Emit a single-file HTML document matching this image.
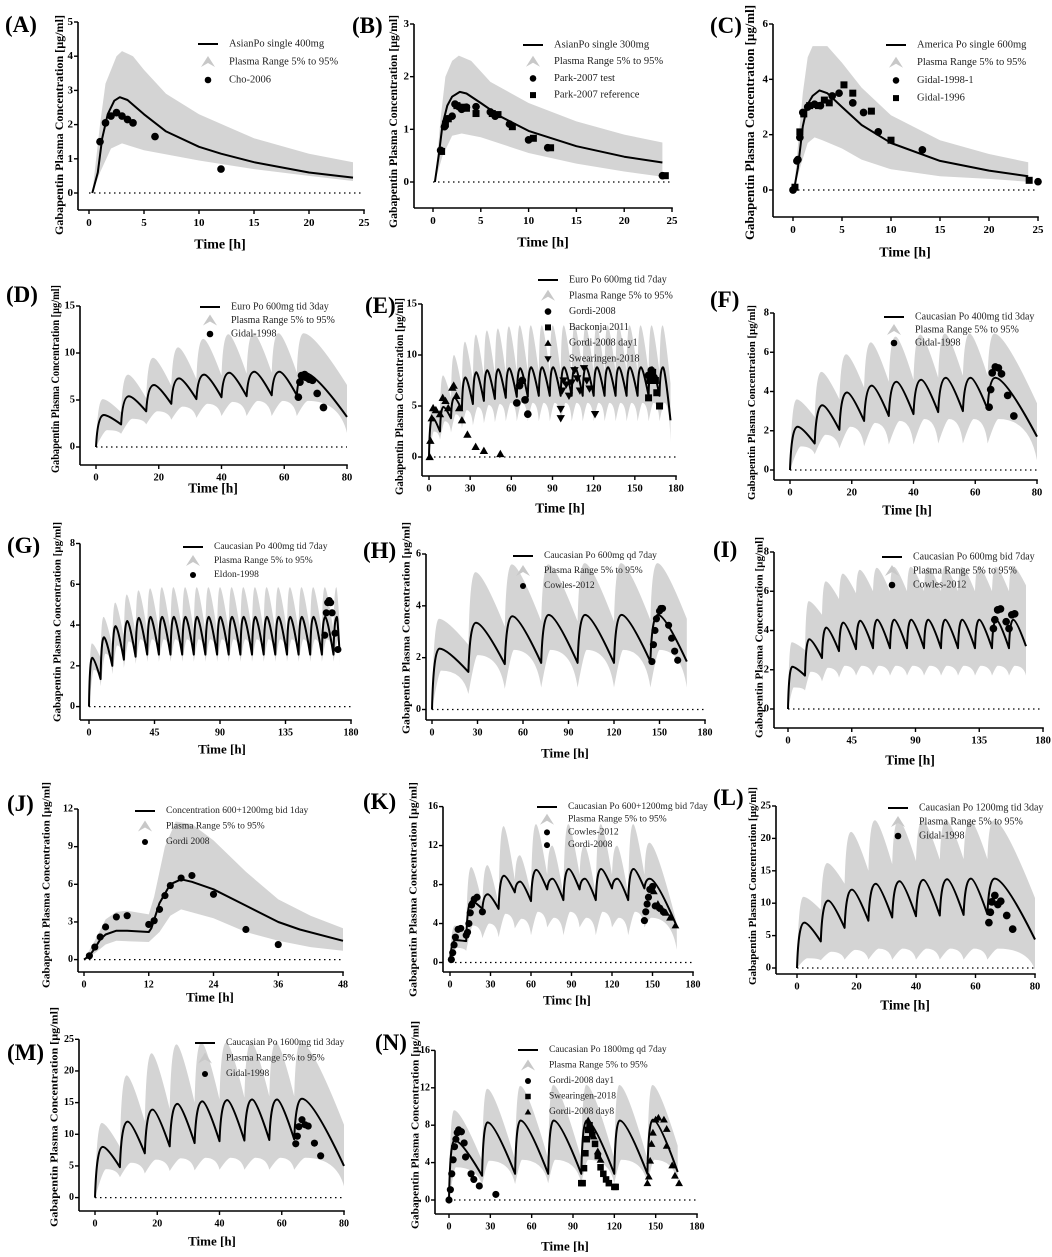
<!DOCTYPE html>
<html><head><meta charset="utf-8">
<style>
html,body{margin:0;padding:0;background:#fff;}
svg{display:block;}
text{font-family:"Liberation Serif",serif;}
</style></head>
<body>
<svg id="fig" width="1052" height="1257" viewBox="0 0 1052 1257" xmlns="http://www.w3.org/2000/svg"></svg>
<script>
// ---------- DATA ----------
const aLine=[[0.3,0],[0.8,0.6],[1.2,1.6],[1.7,2.3],[2.3,2.7],[2.8,2.8],[3.5,2.72],[5,2.3],[7,1.8],[10,1.35],[12,1.15],[15,0.9],[20,0.6],[24,0.45]];
const aUp=[[0.3,0],[1,2],[1.5,3.2],[2.5,4.0],[3,4.15],[4,4.0],[5,3.6],[7,2.9],[10,2.3],[15,1.6],[20,1.15],[24,0.9]];
const aLo=[[0.3,0],[1,0.6],[2,1.3],[3,1.45],[5,1.25],[10,0.95],[15,0.7],[20,0.5],[24,0.35]];
const aObs=[[1,1.5],[1.5,2.05],[2,2.25],[2.5,2.35],[3,2.25],[3.5,2.15],[4,2.05],[6,1.65],[12,0.7]];

const bLine=[[0.2,0],[0.6,0.5],[1,1.1],[1.5,1.45],[2,1.62],[2.8,1.71],[3.5,1.68],[5,1.5],[7,1.25],[10,0.97],[15,0.68],[20,0.48],[24,0.37]];
const bUp=[[0.2,0],[0.8,1.2],[1.3,2.0],[2,2.3],[2.7,2.4],[4,2.3],[6,1.9],[10,1.5],[15,1.15],[20,0.9],[24,0.75]];
const bLo=[[0.2,0],[1,0.5],[2,0.88],[3,0.92],[5,0.85],[10,0.55],[15,0.35],[20,0.2],[24,0.1]];
const bObsTest=[[0.8,0.6],[1.2,1.05],[1.5,1.2],[2,1.25],[2.3,1.48],[2.7,1.43],[3,1.38],[3.5,1.42],[4.5,1.43],[6,1.33],[6.5,1.25],[8,1.1],[10,0.8],[12,0.65],[24,0.12]];
const bObsRef=[[0.9,0.58],[1.3,1.1],[1.6,1.2],[2.5,1.45],[3,1.42],[3.5,1.4],[4.5,1.3],[6.2,1.3],[6.8,1.28],[8.3,1.05],[10.5,0.83],[12.3,0.65],[24.3,0.12]];

const cLine=[[0.1,0],[0.5,0.8],[1,2.3],[1.5,3.1],[2,3.4],[2.7,3.6],[3.5,3.5],[5,3.0],[7,2.35],[10,1.7],[15,1.05],[20,0.7],[24,0.5]];
const cUp=[[0.1,0],[0.6,2],[1,3.5],[1.5,4.8],[2,5.2],[3.5,5.2],[5,4.6],[7,3.7],[10,2.7],[15,1.8],[20,1.3],[24,1.0]];
const cLo=[[0.1,0],[0.8,0.9],[1.5,1.7],[2.2,1.9],[3,1.8],[5,1.5],[7,1.1],[10,0.75],[15,0.5],[20,0.4],[24,0.3]];
const cObs1=[[0,0],[0.4,1.05],[0.5,1.1],[0.7,1.9],[1,2.8],[1.5,3.0],[2.2,3.1],[2.8,3.05],[4,3.4],[4.7,3.5],[6.1,3.15],[7.2,2.8],[8.7,2.1],[13.2,1.45],[25,0.3]];
const cObs2=[[0.2,0.1],[0.7,2.1],[1.1,2.75],[1.7,3.05],[2.6,3.05],[3.2,3.25],[3.7,3.15],[5.2,3.8],[6.1,3.5],[8,2.85],[10,1.8],[24.1,0.35]];

const jLine=[[0,0],[1,0.3],[2,0.9],[3,1.6],[4,2.0],[6,2.3],[8,2.3],[12,2.2],[12.5,2.5],[14,4.5],[16,6.0],[18,6.4],[20,6.2],[24,5.6],[30,4.3],[36,3.0],[40,2.4],[48,1.5]];
const jUp=[[0,0],[2,1.5],[4,3.2],[6,3.8],[8,3.9],[12,3.6],[13,5],[15,9],[17,11],[20,10.8],[24,9.5],[30,7],[36,4.8],[42,3.5],[48,2.5]];
const jLo=[[0,0],[2,0.5],[4,1.2],[6,1.5],[12,1.4],[14,2.2],[16,3.5],[18,4.0],[24,3.3],[30,2.2],[36,1.5],[42,1.0],[48,0.7]];
const jObs=[[1,0.3],[2,1.0],[3,1.8],[4,2.6],[6,3.4],[8,3.5],[12,2.8],[13,3.1],[14,4.0],[15,5.1],[16,5.9],[18,6.5],[20,6.7],[24,5.2],[30,2.4],[36,1.2]];

const dDoses=[0,8,16,24,32,40,48,56,64];
const dPeaks=[3.4,5.4,6.6,7.3,7.7,7.9,8.0,8.0,7.9];
const dTroughs=[0,2.4,3.8,4.6,5.1,5.3,5.4,5.5,5.5];
const dUpPeaks=[5.1,7.7,9.5,10.6,11.5,12.0,12.1,12.1,12.1];
const dUpTroughs=[0,3.7,5.2,6.5,7.2,7.6,7.8,7.9,7.9];
const dLoPeaks=[1.8,3.0,3.8,4.3,4.6,4.8,4.9,4.9,4.9];
const dLoTroughs=[0,1.4,2.4,2.9,3.1,3.3,3.3,3.3,3.3];
const dEnd=[80,3.2,6.6,1.5];
const dObs=[[64.5,5.3],[65,6.9],[65.5,7.6],[66,7.5],[66.5,7.7],[67,7.4],[68,7.2],[69,7.1],[70.5,5.7],[72.5,4.2]];

const eDoses=[0,8,16,24,32,40,48,56,64,72,80,88,96,104,112,120,128,136,144,152,160,168];
const ePeaks=[3.9,4.9,5.8,7.8,8.3,8.5,8.6,8.7,8.7,8.8,8.8,8.8,8.8,8.8,8.8,8.8,8.8,8.8,8.8,8.8,8.8,8.8];
const eTroughs=[0,2.5,3.8,4.6,5.2,5.5,5.7,5.8,5.9,5.9,6.0,6.0,6.0,6.0,6.0,6.0,6.0,6.0,6.0,6.0,6.0,6.0];
const eUpPeaks=[5.0,8.0,10.0,11.3,12.0,12.4,12.6,12.8,12.9,12.9,12.9,12.9,12.9,12.9,12.9,12.9,12.9,12.9,12.9,12.9,12.9,12.9];
const eUpTroughs=[0,4.2,5.8,6.8,7.5,7.9,8.1,8.2,8.3,8.3,8.3,8.3,8.3,8.3,8.3,8.3,8.3,8.3,8.3,8.3,8.3,8.3];
const eLoPeaks=[2.5,3.5,4.2,4.6,4.9,5.1,5.2,5.3,5.3,5.3,5.3,5.3,5.3,5.3,5.3,5.3,5.3,5.3,5.3,5.3,5.3,5.3];
const eLoTroughs=[0,1.7,2.4,2.8,3.1,3.3,3.4,3.5,3.5,3.5,3.5,3.5,3.5,3.5,3.5,3.5,3.5,3.5,3.5,3.5,3.5,3.5];
const eEnd=[176,3.6,7.2,1.5];
const eObsGordi=[[64,5.3],[66,7.0],[68,7.5],[70,5.6],[72,4.2],[160,8.0],[162,8.5],[164,7.8]];
const eObsBackonja=[[160,5.8],[161,7.5],[163,8.3],[165,7.5],[166,6.3],[168,5.0]];
const eObsDay1=[[0.5,0],[1,1.6],[2,3.8],[3,4.8],[5,4.6],[8,4.2],[10,5.8],[12,5.5],[14,4.8],[17,6.8],[18,7.0],[20,6.0],[22,4.8],[24,3.6],[28,2.2],[34,1.0],[40,0.6],[52,0.3]];
const eObsSwear=[[96,3.8],[96,4.7],[97,6.5],[98,7.5],[100,7.1],[102,6.0],[104,7.3],[106,8.5],[108,7.7],[110,6.5],[113,8.7],[115,7.5],[117,6.7],[121,4.2]];

const fDoses=[0,8,16,24,32,40,48,56,64];
const fPeaks=[2.2,3.3,3.95,4.3,4.5,4.6,4.7,4.7,4.7];
const fTroughs=[0,1.35,2.05,2.5,2.75,2.85,2.95,3.0,3.1];
const fUpPeaks=[3.6,5.0,5.9,6.5,6.8,6.9,6.95,6.95,6.95];
const fUpTroughs=[0,2.7,3.6,4.2,4.5,4.6,4.7,4.8,4.8];
const fLoPeaks=[1.2,1.8,2.2,2.4,2.5,2.6,2.6,2.6,2.6];
const fLoTroughs=[0,0.8,1.1,1.2,1.3,1.3,1.35,1.35,1.35];
const fEnd=[80,1.7,3.4,0.5];
const fObs=[[64.5,3.2],[65,4.1],[65.5,4.95],[66.5,5.25],[67.5,5.2],[68.5,4.9],[70.5,3.8],[72.5,2.75]];

const gDoses=[0,8,16,24,32,40,48,56,64,72,80,88,96,104,112,120,128,136,144,152,160,168];
const gPeaks=[2.4,3.4,3.95,4.2,4.35,4.4,4.4,4.4,4.4,4.4,4.4,4.4,4.4,4.4,4.4,4.4,4.4,4.4,4.4,4.4,4.4,4.4];
const gTroughs=[0,1.35,2.0,2.3,2.45,2.55,2.55,2.55,2.55,2.55,2.55,2.55,2.55,2.55,2.55,2.55,2.55,2.55,2.55,2.55,2.55,2.55];
const gUpPeaks=[3.1,4.4,5.1,5.5,5.7,5.8,5.85,5.85,5.85,5.85,5.85,5.85,5.85,5.85,5.85,5.85,5.85,5.85,5.85,5.85,5.85,5.85];
const gUpTroughs=[0,2.4,3.0,3.4,3.6,3.7,3.7,3.7,3.7,3.7,3.7,3.7,3.7,3.7,3.7,3.7,3.7,3.7,3.7,3.7,3.7,3.7];
const gLoPeaks=[1.8,2.6,3.0,3.2,3.3,3.3,3.3,3.3,3.3,3.3,3.3,3.3,3.3,3.3,3.3,3.3,3.3,3.3,3.3,3.3,3.3,3.3];
const gLoTroughs=[0,1.0,1.6,1.9,2.1,2.2,2.2,2.2,2.2,2.2,2.2,2.2,2.2,2.2,2.2,2.2,2.2,2.2,2.2,2.2,2.2,2.2];
const gEnd=[172,2.8,4.2,2.0];
const gObs=[[162,3.5],[163,4.6],[164,5.1],[165,5.2],[166,5.1],[167,4.6],[169,3.6],[171,2.8]];

const hDoses=[0,24,48,72,96,120,144];
const hPeaks=[2.35,3.35,3.6,3.65,3.65,3.65,3.65];
const hTroughs=[0,1.45,1.75,1.8,1.8,1.8,1.85];
const hUpPeaks=[3.5,5.3,5.6,5.6,5.65,5.65,5.65];
const hUpTroughs=[0,2.5,3.2,3.4,3.4,3.4,3.45];
const hLoPeaks=[1.5,2.1,2.3,2.3,2.3,2.3,2.3];
const hLoTroughs=[0,0.6,0.8,0.85,0.85,0.85,0.85];
const hEnd=[168,1.85,3.5,0.85];
const hObs=[[145,1.85],[146,2.5],[147,3.05],[148,3.5],[150,3.8],[151,3.9],[152,3.9],[156,3.25],[158,2.75],[160,2.25],[162,1.9]];

const iDoses=[0,12,24,36,48,60,72,84,96,108,120,132,144,156];
const iPeaks=[2.15,3.55,4.15,4.4,4.5,4.55,4.55,4.55,4.55,4.55,4.55,4.55,4.55,4.55];
const iTroughs=[0,1.7,2.6,2.95,3.05,3.1,3.1,3.1,3.1,3.1,3.1,3.1,3.1,3.1];
const iUpPeaks=[3.4,5.5,6.5,6.9,7.1,7.2,7.25,7.25,7.25,7.25,7.25,7.25,7.25,7.3];
const iUpTroughs=[0,3.0,4.8,5.6,5.9,6.0,6.0,6.0,6.0,6.0,6.0,6.0,6.0,6.0];
const iLoPeaks=[1.1,1.9,2.1,2.2,2.2,2.2,2.2,2.2,2.2,2.2,2.2,2.2,2.2,2.2];
const iLoTroughs=[0,0.95,1.4,1.6,1.7,1.7,1.7,1.7,1.7,1.7,1.7,1.7,1.7,1.7];
const iEnd=[168,3.2,6.3,1.7];
const iObs=[[145,4.1],[146,4.55],[148,5.05],[150,5.1],[154,4.45],[156,4.1],[158,4.8],[160,4.85]];

const kDoses=[0,12,24,36,48,60,72,84,96,108,120,132,144];
const kPeaks=[2.3,6.3,7.0,8.9,8.3,9.5,8.6,9.6,8.6,9.6,8.6,9.6,8.6];
const kTroughs=[0,2.2,5.5,5.5,7.2,6.3,7.5,6.4,7.5,6.4,7.6,6.4,7.6];
const kUpPeaks=[3.8,9.8,10,14,11,14.2,12,14.2,12,14.2,12,14.2,12.3];
const kUpTroughs=[0,3,6,6,8.5,7,9,7,9,7,9,7,9];
const kLoPeaks=[1.5,3.8,4.0,5,4.5,5.2,4.6,5.2,4.6,5.2,4.6,5.2,4.6];
const kLoTroughs=[0,1.2,2.5,2.6,3.5,2.8,3.6,2.8,3.6,2.8,3.6,2.8,3.6];
const kEnd=[168,3.7,4.0,1.3];
const kObsCowles=[[144,4.3],[145,5.2],[146,6.0],[147,6.7],[148,7.5],[150,7.8],[152,5.8],[155,5.6],[158,5.2]];
const kObsGordi=[[1,0.3],[2,1.0],[3,1.8],[4,2.6],[6,3.4],[8,3.5],[12,2.8],[13,3.1],[14,4.0],[15,5.1],[16,5.9],[18,6.5],[20,6.7],[24,5.2]];
const kObsTri=[[149,7.6],[151,7.3],[154,6.0],[157,5.5],[160,5.1],[163,4.6],[167,3.8]];

const lDoses=[0,8,16,24,32,40,48,56,64];
const lPeaks=[7.0,10.4,12.1,13.0,13.4,13.6,13.7,13.8,13.8];
const lTroughs=[0,4.1,6.2,7.3,7.8,8.0,8.1,8.2,8.3];
const lUpPeaks=[11,16.2,21,22.8,22.8,22.8,22.8,22.8,22.8];
const lUpTroughs=[0,9,13,15,16,16.5,16.7,16.8,16.8];
const lLoPeaks=[1.5,2.5,2.8,3,3,3,3,3,3];
const lLoTroughs=[0,1.2,1.3,1.3,1.3,1.3,1.3,1.3,1.3];
const lEnd=[80,4.4,10.8,-0.3];
const lObs=[[64.5,7.0],[65,8.6],[65.5,10.2],[66.5,11.2],[67.5,9.8],[68.5,10.3],[70.5,8.1],[72.5,6.0]];

const mDoses=[0,8,16,24,32,40,48,56,64];
const mPeaks=[8.0,12.0,13.9,14.8,15.2,15.4,15.5,15.5,15.6];
const mTroughs=[0,4.8,7.0,8.1,8.6,8.9,9.0,9.1,9.2];
const mUpPeaks=[11.8,19.3,22.8,24.2,24.5,24.5,24.5,24.5,24.5];
const mUpTroughs=[0,8,12,14,15,15.5,15.8,16,16];
const mLoPeaks=[4.5,5.5,6.0,6.2,6.3,6.3,6.3,6.3,6.3];
const mLoTroughs=[0,3.2,3.8,4.2,4.3,4.4,4.4,4.4,4.4];
const mEnd=[80,5.0,11.5,1.8];
const mObs=[[64.5,8.5],[65,9.7],[65.5,11.2],[66.5,12.3],[67.5,11.5],[68.5,11.3],[70.5,8.6],[72.5,6.6]];

const nDoses=[0,24,48,72,96,120,144];
const nPeaks=[6.4,8.3,8.5,8.5,8.5,8.5,8.6];
const nTroughs=[0,2.6,2.8,2.8,2.8,2.8,2.8];
const nUpPeaks=[9.6,11.9,12.2,12.3,12.3,12.3,12.3];
const nUpTroughs=[0,4.2,4.3,4.4,4.4,4.4,4.4];
const nLoPeaks=[3.5,4.2,4.3,4.3,4.3,4.3,4.3];
const nLoTroughs=[0,1.6,1.7,1.8,1.8,1.8,1.8];
const nEnd=[166,3.0,5.8,1.9];
const nObsGordi1=[[0,0],[1,1.1],[2,2.8],[3,4.3],[4,5.7],[5,6.5],[6,7.2],[7,7.5],[9,7.3],[11,6.1],[12,4.6],[16,2.8],[18,2.2],[22,1.5],[34,0.6]];
const nObsSwear=[[96,1.8],[97,1.8],[98,3.4],[99,5.0],[100,6.5],[101,7.5],[102,8.0],[103,7.5],[104,7.0],[106,6.0],[108,4.7],[110,3.5],[112,2.8],[114,2.2],[116,1.8],[120,1.4],[121,1.4]];
const nObsGordi8=[[101,8.5],[103,7.7],[105,6.8],[108,5.2],[110,4.3],[144,1.8],[145,2.5],[146,4.2],[147,6.0],[148,7.2],[150,8.6],[152,8.8],[156,8.6],[158,7.6],[158,5.8],[162,3.7],[164,2.6],[167,1.8]];

const xTicksA=[0,5,10,15,20,25], yTicksA=[0,1,2,3,4,5];
const yTicksB=[0,1,2,3], yTicksC=[0,2,4,6];
const xTicks80=[0,20,40,60,80], xTicks180=[0,30,60,90,120,150,180], xTicks45=[0,45,90,135,180], xTicksJ=[0,12,24,36,48];
const yTicks15=[0,5,10,15], yTicks8=[0,2,4,6,8], yTicks6=[0,2,4,6], yTicks12=[0,3,6,9,12], yTicks16=[0,4,8,12,16], yTicks25=[0,5,10,15,20,25];

// ---------- RENDER ----------
const NS='http://www.w3.org/2000/svg';
const svg=document.getElementById('fig');
function mk(tag,attrs,parent){const e=document.createElementNS(NS,tag);for(const k in attrs)e.setAttribute(k,attrs[k]);(parent||svg).appendChild(e);return e;}
function multi(doses,peaks,troughs,end,off,upshift){
  const pts=[];
  for(let i=0;i<doses.length;i++){pts.push([doses[i],troughs[i]]);pts.push([doses[i]+off+(upshift||0),peaks[i]]);}
  pts.push([end[0],end[1]]);return pts;
}
// smooth path through pixel points: rising segments concave, falling segments rounded at top
function smoothSeg(p0,p1){
  const dx=p1[0]-p0[0];
  if(p1[1]<p0[1]) return `Q${(p0[0]+dx*0.2).toFixed(1)},${p1[1].toFixed(1)} ${p1[0].toFixed(1)},${p1[1].toFixed(1)}`; // going up on screen
  return `Q${(p0[0]+dx*0.25).toFixed(1)},${p0[1].toFixed(1)} ${p1[0].toFixed(1)},${p1[1].toFixed(1)}`;
}
function pathOf(px,move){
  let d=(move?'M':'L')+px[0][0].toFixed(1)+','+px[0][1].toFixed(1);
  for(let i=1;i<px.length;i++) d+=' '+smoothSeg(px[i-1],px[i]);
  return d;
}

const PANELS=[
 {id:'A',lab:[5,32],ax:78,xy:210,xt:xTicksA,xp:[89,364],yt:yTicksA,yp:[193,22],tt:[59,15,235,12],tl:[220,245],fs:11,
  line:aLine,up:aUp,lo:aLo,obs:[['circle',aObs]],
  leg:{x:198,y:44,dy:18,fs:10.5,items:[['line','AsianPo single 400mg'],['band','Plasma Range 5% to 95%'],['circle','Cho-2006']]}},
 {id:'B',lab:[352,33],ax:414,xy:208,xt:xTicksA,xp:[433,672],yt:yTicksB,yp:[182,24],tt:[393,15,228,12],tl:[543,243],fs:11,
  line:bLine,up:bUp,lo:bLo,obs:[['circle',bObsTest],['square',bObsRef]],
  leg:{x:523,y:45,dy:16.7,fs:10.5,items:[['line','AsianPo single 300mg'],['band','Plasma Range 5% to 95%'],['circle','Park-2007 test'],['square','Park-2007 reference']]}},
 {id:'C',lab:[710,33],ax:773,xy:217,xt:xTicksA,xp:[793,1038],yt:yTicksC,yp:[190,24],tt:[750,5,240,12.5],tl:[905,253],fs:11,
  line:cLine,up:cUp,lo:cLo,obs:[['circle',cObs1],['square',cObs2]],
  leg:{x:886,y:45,dy:17.7,fs:10.5,items:[['line','America Po single 600mg'],['band','Plasma Range 5% to 95%'],['circle','Gidal-1998-1'],['square','Gidal-1996']]}},
 {id:'D',lab:[6,302],ax:80,xy:465,xt:xTicks80,xp:[96,347],yt:yTicks15,yp:[447,306],tt:[56,285,473,11.5],tl:[213,488],fs:10.5,
  md:[dDoses,dPeaks,dTroughs,dUpPeaks,dUpTroughs,dLoPeaks,dLoTroughs,dEnd,2.5],obs:[['circle',dObs]],
  leg:{x:200,y:307,dy:13.5,fs:10,items:[['line','Euro Po 600mg tid 3day'],['band','Plasma Range 5% to 95%'],['circle','Gidal-1998']]}},
 {id:'E',lab:[365,313],ax:422,xy:476,xt:xTicks180,xp:[429,676],yt:yTicks15,yp:[457,304],tt:[400,298,495,11.5],tl:[560,508],fs:10.5,
  md:[eDoses,ePeaks,eTroughs,eUpPeaks,eUpTroughs,eLoPeaks,eLoTroughs,eEnd,2.5],obs:[['circle',eObsGordi],['square',eObsBackonja],['tri',eObsDay1],['dtri',eObsSwear]],
  leg:{x:538,y:280,dy:15.8,fs:10,items:[['line','Euro Po 600mg tid 7day'],['band','Plasma Range 5% to 95%'],['circle','Gordi-2008'],['square','Backonja 2011'],['tri','Gordi-2008 day1'],['dtri','Swearingen-2018']]}},
 {id:'F',lab:[710,307],ax:774,xy:480,xt:xTicks80,xp:[790,1037],yt:yTicks8,yp:[470,313],tt:[752,305,500,11],tl:[907,510],fs:10.5,
  md:[fDoses,fPeaks,fTroughs,fUpPeaks,fUpTroughs,fLoPeaks,fLoTroughs,fEnd,2.5],obs:[['circle',fObs]],
  leg:{x:884,y:317,dy:13,fs:10,items:[['line','Caucasian Po 400mg tid 3day'],['band','Plasma Range 5% to 95%'],['circle','Gidal-1998']]}},
 {id:'G',lab:[7,553],ax:80,xy:720,xt:xTicks45,xp:[89,351],yt:yTicks8,yp:[706.6,543.5],tt:[58,522,722,10],tl:[222,749],fs:10,
  md:[gDoses,gPeaks,gTroughs,gUpPeaks,gUpTroughs,gLoPeaks,gLoTroughs,gEnd,2.3],obs:[['circle',gObs]],
  leg:{x:183,y:547,dy:14,fs:9.5,items:[['line','Caucasian Po 400mg tid 7day'],['band','Plasma Range 5% to 95%'],['circle','Eldon-1998']]}},
 {id:'H',lab:[363,558],ax:426,xy:720,xt:xTicks180,xp:[432,705],yt:yTicks6,yp:[709.5,554],tt:[407,522,734,10],tl:[565,753],fs:10,
  md:[hDoses,hPeaks,hTroughs,hUpPeaks,hUpTroughs,hLoPeaks,hLoTroughs,hEnd,5],obs:[['circle',hObs]],
  leg:{x:513,y:556,dy:15,fs:9.5,items:[['line','Caucasian  Po 600mg qd 7day'],['band','Plasma Range 5% to 95%'],['circle','Cowles-2012']]}},
 {id:'I',lab:[713,557],ax:774,xy:728,xt:xTicks45,xp:[788,1043],yt:yTicks8,yp:[709,552],tt:[760,537,738,10.5],tl:[910,760],fs:10.5,
  md:[iDoses,iPeaks,iTroughs,iUpPeaks,iUpTroughs,iLoPeaks,iLoTroughs,iEnd,3],obs:[['circle',iObs]],
  leg:{x:882,y:557,dy:14,fs:10,items:[['line','Caucasian Po 600mg bid 7day'],['band','Plasma Range 5% to 95%'],['circle','Cowles-2012']]}},
 {id:'J',lab:[7,811],ax:78,xy:972,xt:xTicksJ,xp:[84,343],yt:yTicks12,yp:[959.6,809],tt:[47,782,988,10],tl:[210,997],fs:10,
  line:jLine,up:jUp,lo:jLo,obs:[['circle',jObs]],
  leg:{x:135,y:811,dy:15.5,fs:9.5,items:[['line','Concentration 600+1200mg bid 1day'],['band','Plasma Range 5% to 95%'],['circle','Gordi 2008']]}},
 {id:'K',lab:[363,809],ax:443,xy:972,xt:xTicks180,xp:[450,693],yt:yTicks16,yp:[962.5,806.6],tt:[414,782,997,10],tl:[567,1000],fs:10,
  md:[kDoses,kPeaks,kTroughs,kUpPeaks,kUpTroughs,kLoPeaks,kLoTroughs,kEnd,4],obs:[['circle',kObsCowles],['circle',kObsGordi],['tri',kObsTri]],
  leg:{x:537,y:807,dy:12.7,fs:9.5,items:[['line','Caucasian Po 600+1200mg bid 7day'],['band','Plasma Range 5% to 95%'],['circle','Cowles-2012'],['circle','Gordi-2008']]}},
 {id:'L',lab:[713,805],ax:776,xy:974,xt:xTicks80,xp:[797,1035],yt:yTicks25,yp:[968,806],tt:[753,787,985,11],tl:[905,1005],fs:10.5,
  md:[lDoses,lPeaks,lTroughs,lUpPeaks,lUpTroughs,lLoPeaks,lLoTroughs,lEnd,2.5],obs:[['circle',lObs]],
  leg:{x:888,y:808,dy:14,fs:10,items:[['line','Caucasian Po 1200mg tid 3day'],['band','Plasma Range 5% to 95%'],['circle','Gidal-1998']]}},
 {id:'M',lab:[7,1060],ax:79,xy:1211,xt:xTicks80,xp:[95,344],yt:yTicks25,yp:[1197.6,1039.3],tt:[55,1007,1227,10],tl:[212,1241],fs:10,
  md:[mDoses,mPeaks,mTroughs,mUpPeaks,mUpTroughs,mLoPeaks,mLoTroughs,mEnd,2.5],obs:[['circle',mObs]],
  leg:{x:195,y:1043,dy:15.5,fs:9.5,items:[['line','Caucasian Po 1600mg tid 3day'],['band','Plasma Range 5% to 95%'],['circle','Gidal-1998']]}},
 {id:'N',lab:[375,1050],ax:435,xy:1214,xt:xTicks180,xp:[449,697],yt:yTicks16,yp:[1200,1050.4],tt:[416,1021,1229,10],tl:[565,1246],fs:10,
  md:[nDoses,nPeaks,nTroughs,nUpPeaks,nUpTroughs,nLoPeaks,nLoTroughs,nEnd,4],obs:[['circle',nObsGordi1],['square',nObsSwear],['tri',nObsGordi8]],
  leg:{x:518,y:1050,dy:15.5,fs:9.5,items:[['line','Caucasian Po 1800mg qd 7day'],['band','Plasma Range 5% to 95%'],['circle','Gordi-2008 day1'],['square','Swearingen-2018'],['tri','Gordi-2008 day8']]}}
];

function marker(g,type,cx,cy,s,name){
  let e;
  if(type==='circle') e=mk('circle',{cx:cx,cy:cy,r:s*0.55,fill:'#000'},g);
  else if(type==='square') e=mk('rect',{x:cx-s*0.5,y:cy-s*0.5,width:s,height:s,fill:'#000'},g);
  else if(type==='tri') e=mk('polygon',{points:`${cx},${cy-s*0.6} ${cx-s*0.6},${cy+s*0.45} ${cx+s*0.6},${cy+s*0.45}`,fill:'#000'},g);
  else e=mk('polygon',{points:`${cx},${cy+s*0.6} ${cx-s*0.6},${cy-s*0.45} ${cx+s*0.6},${cy-s*0.45}`,fill:'#000'},g);
  
  
  return e;
}

PANELS.forEach(P=>{
  const g=mk('g',{});
  
  
  const xt0=P.xt[0],xt1=P.xt[P.xt.length-1],yt1=P.yt[P.yt.length-1];
  const X=t=>P.xp[0]+(t-xt0)*(P.xp[1]-P.xp[0])/(xt1-xt0);
  const Y=c=>P.yp[0]+c*(P.yp[1]-P.yp[0])/yt1;
  let line,up,lo;
  if(P.md){const m=P.md;const end=m[7];
    line=multi(m[0],m[1],m[2],[end[0],end[1]],m[8]);
    up=multi(m[0],m[3],m[4],[end[0],end[2]],m[8]-0.3);
    lo=multi(m[0],m[5],m[6],[end[0],end[3]],m[8],1);
  } else {line=P.line;up=P.up;lo=P.lo;}
  const toPx=arr=>arr.map(p=>[X(p[0]),Y(p[1])]);
  let band,pl;
  if(P.md){
    const upPx=toPx(up), loPx=toPx(lo).reverse();
    band=mk('path',{d:pathOf(upPx,true)+' '+pathOf(loPx,false)+' Z',fill:'#d4d4d4'},g);
  } else {
    const bandPts=up.map(p=>X(p[0]).toFixed(1)+','+Y(p[1]).toFixed(1)).concat(lo.slice().reverse().map(p=>X(p[0]).toFixed(1)+','+Y(p[1]).toFixed(1)));
    band=mk('polygon',{points:bandPts.join(' '),fill:'#d4d4d4'},g);
  }
  
  
  const zl=mk('line',{x1:X(0),x2:P.xp[1],y1:Y(0),y2:Y(0),stroke:'#000','stroke-width':1.3,'stroke-dasharray':'1.5 3.5'},g);
  
  
  if(P.md){
    pl=mk('path',{d:pathOf(toPx(line),true),fill:'none',stroke:'#000','stroke-width':2,'stroke-linejoin':'round'},g);
  } else {
    pl=mk('polyline',{points:line.map(p=>X(p[0]).toFixed(1)+','+Y(p[1]).toFixed(1)).join(' '),fill:'none',stroke:'#000','stroke-width':2,'stroke-linejoin':'round'},g);
  }
  
  
  P.obs.forEach(o=>{o[1].forEach(p=>{marker(g,o[0],X(p[0]),Y(p[1]),P.fs>=10.5?7:6.5,'observed-point');});});
  const ya=mk('line',{x1:P.ax,x2:P.ax,y1:P.yp[1],y2:P.xy,stroke:'#000','stroke-width':1.6},g);
  
  
  const xa=mk('line',{x1:P.ax,x2:P.xp[1]+0.8,y1:P.xy,y2:P.xy,stroke:'#000','stroke-width':1.6},g);
  
  
  P.yt.forEach(v=>{
    mk('line',{x1:P.ax-4,x2:P.ax,y1:Y(v),y2:Y(v),stroke:'#000','stroke-width':1.4},g);
    const t=mk('text',{x:P.ax-5,y:Y(v),'text-anchor':'end','dominant-baseline':'central','font-size':P.fs,'font-weight':'bold'},g);
    t.textContent=v;
    
    
  });
  P.xt.forEach(v=>{
    mk('line',{x1:X(v),x2:X(v),y1:P.xy,y2:P.xy+4,stroke:'#000','stroke-width':1.4},g);
    const t=mk('text',{x:X(v),y:P.xy+13,'text-anchor':'middle','dominant-baseline':'central','font-size':P.fs,'font-weight':'bold'},g);
    t.textContent=v;
    
    
  });
  const tt=P.tt;const cy=(tt[1]+tt[2])/2;
  const yt=mk('text',{x:0,y:0,transform:`translate(${tt[0]},${cy}) rotate(-90)`,'text-anchor':'middle','dominant-baseline':'central','font-size':tt[3],'font-weight':'bold',textLength:tt[2]-tt[1],lengthAdjust:'spacingAndGlyphs'},g);
  yt.textContent='Gabapentin Plasma Concentration [µg/ml]';
  
  
  const xtl=mk('text',{x:P.tl[0],y:P.tl[1],'text-anchor':'middle','dominant-baseline':'central','font-size':P.fs+3,'font-weight':'bold'},g);
  xtl.textContent=(P.id==='K')?'Timc [h]':'Time [h]';
  
  
  const lb=mk('text',{x:P.lab[0],y:P.lab[1],'font-size':23,'font-weight':'bold'},g);
  lb.textContent='('+P.id+')';
  
  
  const L=P.leg;
  L.items.forEach((it,i)=>{
    const y=L.y+i*L.dy;const sx=L.x+10;
    if(it[0]==='line'){const e=mk('line',{x1:L.x,x2:L.x+20,y1:y,y2:y,stroke:'#000','stroke-width':2},g);
      
      }
    else if(it[0]==='band'){const e=mk('polygon',{points:`${sx},${y-6} ${sx-7},${y+5} ${sx},${y+1} ${sx+7},${y+5}`,fill:'#c8c8c8'},g);
      
      }
    else marker(g,it[0],sx,y,L.fs>=10?6:5.5,'legend-marker');
    const t=mk('text',{x:L.x+31,y:y,'dominant-baseline':'central','font-size':L.fs,fill:'#222'},g);
    t.textContent=it[1];
    
    
  });
});
</script>
</body></html>
